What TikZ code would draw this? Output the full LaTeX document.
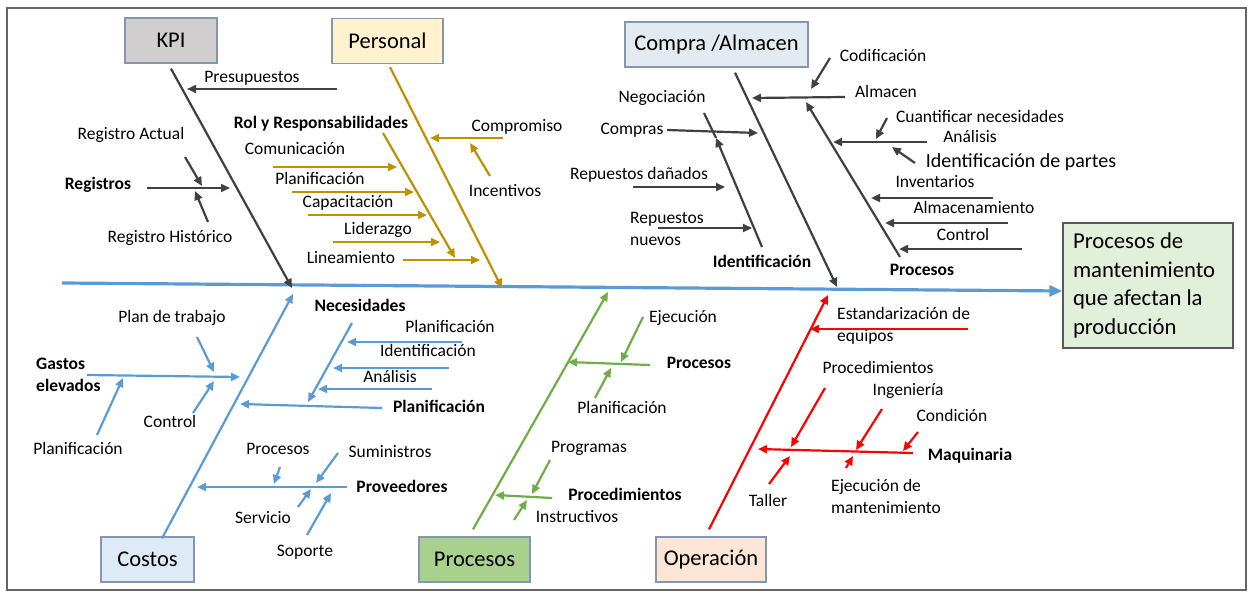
\documentclass[tikz,border=0pt]{standalone}
\usepackage{fontspec}
\setmainfont{Carlito}
\usetikzlibrary{arrows.meta,positioning}

\definecolor{kpilinea}{HTML}{404040}
\definecolor{perlinea}{HTML}{BF9000}
\definecolor{costlinea}{HTML}{5B9BD5}
\definecolor{proclinea}{HTML}{70AD47}
\definecolor{oplinea}{HTML}{FF0000}
\definecolor{borde}{HTML}{8497B0}
\definecolor{kpifondo}{HTML}{D0CECE}
\definecolor{perfondo}{HTML}{FFF2CC}
\definecolor{compfondo}{HTML}{E4EAF2}
\definecolor{costfondo}{HTML}{DEEBF7}
\definecolor{procfondo}{HTML}{A9D18E}
\definecolor{opfondo}{HTML}{FBE5D6}
\definecolor{efefondo}{HTML}{E2EFDA}

\newcommand{\etqfont}{\fontsize{17.5}{22}\selectfont}
\newcommand{\cajafont}{\fontsize{22.5}{27}\selectfont}

\begin{document}
\begin{tikzpicture}[
			x=1pt, y=-1pt,
			>={Triangle[length=9pt,width=8pt]},
			categoria/.style={draw=borde, line width=1.3pt, minimum height=45pt, inner sep=0pt, font=\cajafont},
			etq/.style={font=\etqfont, inner sep=0pt, text height=12pt, text depth=4pt},
			negrita/.style={etq, font=\etqfont\bfseries},
			etqdos/.style={font=\etqfont, inner sep=0pt, align=left, anchor=west},
			causa/.style={->, line width=2.2pt},
			espina/.style={->, line width=3.2pt, costlinea, >={Triangle[length=13pt,width=11pt]}}
		]
		\useasboundingbox (0,0) rectangle (1252,594);
		\draw[black!60, line width=1.3pt] (7,8) rectangle (1246,590);

		% categorias y efecto
		\node[categoria, fill=kpifondo, minimum width=92pt] (kpi) at (171,40.5) {KPI};
		\node[categoria, fill=perfondo, minimum width=111pt] (personal) at (387.5,41) {Personal};
		\node[categoria, fill=compfondo, minimum width=183pt] (compra) at (716.5,44.5) {Compra /Almacen};
		\node[categoria, fill=costfondo, minimum width=93pt] (costos) at (147.5,559.5) {Costos};
		\node[categoria, fill=procfondo, minimum width=111pt] (procesos) at (474.5,559.5) {Procesos};
		\node[categoria, fill=opfondo, minimum width=110pt] (operacion) at (711,559.5) {Operación};
		\node[draw=black!65, fill=efefondo, line width=1.3pt, text width=150pt, inner xsep=10pt, inner ysep=0pt,
			minimum height=125pt, align=flush left, font=\fontsize{22.7}{28.5}\selectfont] (efecto) at (1148,285.5)
			{Procesos de\\ mantenimiento\\ que afectan la\\ producción};

		% espina principal
		\coordinate (esp-ini) at (62,283);
		\draw[espina] (esp-ini) -- ([yshift=-5.5pt]efecto.west);

		\coordinate (kpi-fin) at (292,288);
		\coordinate (per-fin) at (502,288);
		\coordinate (comp-fin) at (837,287);
		\coordinate (cost-fin) at (293,294);
		\coordinate (proc-fin) at (608,292);
		\coordinate (op-fin) at (828,295);
		\draw[causa, kpilinea] ([yshift=-5pt]kpi.south) -- (kpi-fin);
		\draw[causa, perlinea] ([xshift=2.5pt,yshift=-3pt]personal.south) -- (per-fin);
		\draw[causa, kpilinea] ([xshift=18.5pt,yshift=-5pt]compra.south) -- (comp-fin);
		\draw[causa, costlinea] ([xshift=14.5pt,yshift=-2pt]costos.north) -- (cost-fin);
		\draw[causa, proclinea] ([xshift=-1.5pt,yshift=7pt]procesos.north) -- (proc-fin);
		\draw[causa, oplinea] ([xshift=-2pt,yshift=7pt]operacion.north) -- (op-fin);

		% KPI
		\node[etq] (presup) at (252,78) {Presupuestos};
		\node[etq] (regact) at (131,135) {Registro Actual};
		\node[negrita] (regs) at (98,185) {Registros};
		\node[etq] (reghist) at (170,238) {Registro Histórico};
		\coordinate (presup-a) at (337,89); \coordinate (presup-b) at (187,89);
		\coordinate (regs-a) at (147,188); \coordinate (regs-b) at (230,188);
		\coordinate (regact-a) at (185,157); \coordinate (regact-b) at (202,186);
		\coordinate (reghist-a) at (208,222); \coordinate (reghist-b) at (195,191);
		\draw[causa, kpilinea] (presup-a) -- (presup-b);
		\draw[causa, kpilinea] (regs-a) -- (regs-b);
		\draw[causa, kpilinea] (regact-a) -- (regact-b);
		\draw[causa, kpilinea] (reghist-a) -- (reghist-b);

		% Personal
		\node[etq] (comprom) at (517,127) {Compromiso};
		\node[etq] (incent) at (505,192) {Incentivos};
		\node[negrita] (rol) at (321,124) {Rol y Responsabilidades};
		\node[etq] (comun) at (295,150) {Comunicación};
		\node[etq] (planper) at (320,180) {Planificación};
		\node[etq] (capac) at (348,203) {Capacitación};
		\node[etq] (lider) at (378,230) {Liderazgo};
		\node[etq] (linea) at (351,259) {Lineamiento};
		\coordinate (comprom-a) at (503,138); \coordinate (comprom-b) at (430,138);
		\coordinate (incent-a) at (490,176); \coordinate (incent-b) at (470,143);
		\coordinate (rol-a) at (383,133); \coordinate (rol-b) at (455,258);
		\coordinate (comun-a) at (273,167); \coordinate (comun-b) at (397,167);
		\coordinate (planper-a) at (292,192); \coordinate (planper-b) at (414,192);
		\coordinate (capac-a) at (308,215); \coordinate (capac-b) at (427,215);
		\coordinate (lider-a) at (333,242); \coordinate (lider-b) at (440,242);
		\coordinate (linea-a) at (403,260); \coordinate (linea-b) at (480,260);
		\draw[causa, perlinea] (comprom-a) -- (comprom-b);
		\draw[causa, perlinea] (incent-a) -- (incent-b);
		\draw[causa, perlinea] (rol-a) -- (rol-b);
		\draw[causa, perlinea] (comun-a) -- (comun-b);
		\draw[causa, perlinea] (planper-a) -- (planper-b);
		\draw[causa, perlinea] (capac-a) -- (capac-b);
		\draw[causa, perlinea] (lider-a) -- (lider-b);
		\draw[causa, perlinea] (linea-a) -- (linea-b);

		% Compra /Almacen
		\node[etq] (negoc) at (662,98) {Negociación};
		\node[etq] (compras) at (632,130) {Compras};
		\node[etq] (repdan) at (639,175) {Repuestos dañados};
		\node[etqdos] (repnue) at (630,229) {Repuestos\\ nuevos};
		\node[negrita] (identif) at (762,263) {Identificación};
		\node[etq] (codif) at (883,58) {Codificación};
		\node[etq] (almacen) at (886,93) {Almacen};
		\node[etq] (cuant) at (980,118) {Cuantificar necesidades};
		\node[etq] (analisis) at (970,138) {Análisis};
		\node[etq, font=\fontsize{20}{24}\selectfont] (idpartes) at (1021,163) {Identificación de partes};
		\node[etq] (invent) at (935,183) {Inventarios};
		\node[etq] (almacenam) at (974,209) {Almacenamiento};
		\node[etq] (control) at (963,236) {Control};
		\node[negrita] (procalm) at (922,271) {Procesos};
		\coordinate (compras-a) at (667,130); \coordinate (compras-b) at (758,133);
		\coordinate (negoc-a) at (704,113); \coordinate (identif-b) at (716,138);
		\coordinate (identif-a) at (762,247);
		\coordinate (repdan-a) at (633,187); \coordinate (repdan-b) at (725,187);
		\coordinate (repnue-a) at (658,228); \coordinate (repnue-b) at (752,228);
		\coordinate (almacen-a) at (845,97); \coordinate (almacen-b) at (752,98);
		\coordinate (codif-a) at (830,58); \coordinate (codif-b) at (811,89);
		\coordinate (procalm-a) at (900,257); \coordinate (procalm-b) at (806,102);
		\coordinate (cuant-a) at (887,118); \coordinate (cuant-b) at (876,139);
		\coordinate (analisis-a) at (927,142); \coordinate (analisis-b) at (833,142);
		\coordinate (idpartes-a) at (915,163); \coordinate (idpartes-b) at (892,147);
		\coordinate (invent-a) at (993,198); \coordinate (invent-b) at (871,198);
		\coordinate (almacenam-a) at (1008,223); \coordinate (almacenam-b) at (885,223);
		\coordinate (control-a) at (1022,249); \coordinate (control-b) at (899,249);
		\draw[causa, kpilinea] (compras-a) -- (compras-b);
		\draw[line width=2.2pt, kpilinea] (negoc-a) -- (identif-b);
		\draw[causa, kpilinea] (identif-a) -- (identif-b);
		\draw[causa, kpilinea] (repdan-a) -- (repdan-b);
		\draw[causa, kpilinea] (repnue-a) -- (repnue-b);
		\draw[causa, kpilinea] (almacen-a) -- (almacen-b);
		\draw[causa, kpilinea] (codif-a) -- (codif-b);
		\draw[causa, kpilinea] (procalm-a) -- (procalm-b);
		\draw[causa, kpilinea] (cuant-a) -- (cuant-b);
		\draw[causa, kpilinea] (analisis-a) -- (analisis-b);
		\draw[causa, kpilinea] (idpartes-a) -- (idpartes-b);
		\draw[causa, kpilinea] (invent-a) -- (invent-b);
		\draw[causa, kpilinea] (almacenam-a) -- (almacenam-b);
		\draw[causa, kpilinea] (control-a) -- (control-b);

		% Costos
		\node[negrita] (necesid) at (360,307) {Necesidades};
		\node[etq] (plantrab) at (172,318) {Plan de trabajo};
		\node[etqdos, font=\etqfont\bfseries, align=left] (gastos) at (36,374.5) {Gastos\\ elevados};
		\node[etq] (plannec) at (450,328) {Planificación};
		\node[etq] (idnec) at (428,352) {Identificación};
		\node[etq] (analnec) at (390,378) {Análisis};
		\node[negrita] (plancost) at (439,408) {Planificación};
		\node[etq] (controlc) at (170,423) {Control};
		\node[etq] (plangas) at (78,450) {Planificación};
		\node[etq] (procprov) at (278,450) {Procesos};
		\node[etq] (sumin) at (390,453) {Suministros};
		\node[negrita] (prov) at (402,488) {Proveedores};
		\node[etq] (serv) at (263,519) {Servicio};
		\node[etq] (soporte) at (305,552) {Soporte};
		\coordinate (gastos-a) at (87,375); \coordinate (gastos-b) at (240,377);
		\coordinate (plantrab-a) at (197,337); \coordinate (plantrab-b) at (214,372);
		\coordinate (plangas-a) at (97,435); \coordinate (plangas-b) at (123,378);
		\coordinate (controlc-a) at (193,413); \coordinate (controlc-b) at (214,381);
		\coordinate (necesid-a) at (352,323); \coordinate (necesid-b) at (308,402);
		\coordinate (plannec-a) at (462,342); \coordinate (plannec-b) at (347,342);
		\coordinate (idnec-a) at (449,368); \coordinate (idnec-b) at (333,368);
		\coordinate (analnec-a) at (432,389); \coordinate (analnec-b) at (318,389);
		\coordinate (plancost-a) at (382,408); \coordinate (plancost-b) at (240,404);
		\coordinate (prov-a) at (347,487); \coordinate (prov-b) at (197,487);
		\coordinate (procprov-a) at (280,467); \coordinate (procprov-b) at (274,484);
		\coordinate (sumin-a) at (338,453); \coordinate (sumin-b) at (316,483);
		\coordinate (serv-a) at (298,507); \coordinate (serv-b) at (311,489);
		\coordinate (soporte-a) at (307,535); \coordinate (soporte-b) at (331,493);
		\draw[causa, costlinea] (gastos-a) -- (gastos-b);
		\draw[causa, costlinea] (plantrab-a) -- (plantrab-b);
		\draw[causa, costlinea] (plangas-a) -- (plangas-b);
		\draw[causa, costlinea] (controlc-a) -- (controlc-b);
		\draw[causa, costlinea] (necesid-a) -- (necesid-b);
		\draw[causa, costlinea] (plannec-a) -- (plannec-b);
		\draw[causa, costlinea] (idnec-a) -- (idnec-b);
		\draw[causa, costlinea] (analnec-a) -- (analnec-b);
		\draw[causa, costlinea] (plancost-a) -- (plancost-b);
		\draw[causa, costlinea] (prov-a) -- (prov-b);
		\draw[causa, costlinea] (procprov-a) -- (procprov-b);
		\draw[causa, costlinea] (sumin-a) -- (sumin-b);
		\draw[causa, costlinea] (serv-a) -- (serv-b);
		\draw[causa, costlinea] (soporte-a) -- (soporte-b);

		% Procesos
		\node[etq] (ejec) at (683,318) {Ejecución};
		\node[negrita] (procproc) at (699,364) {Procesos};
		\node[etq] (planproc) at (622,409) {Planificación};
		\node[etq] (progr) at (589,448) {Programas};
		\node[negrita] (procedim) at (625,496) {Procedimientos};
		\node[etq] (instr) at (577,518) {Instructivos};
		\coordinate (procproc-a) at (650,365); \coordinate (procproc-b) at (568,362);
		\coordinate (ejec-a) at (643,317); \coordinate (ejec-b) at (621,362);
		\coordinate (planproc-a) at (595,398); \coordinate (planproc-b) at (611,368);
		\coordinate (procedim-a) at (552,498); \coordinate (procedim-b) at (495,495);
		\coordinate (progr-a) at (550,460); \coordinate (progr-b) at (532,494);
		\coordinate (instr-a) at (514,520); \coordinate (instr-b) at (527,500);
		\draw[causa, proclinea] (procproc-a) -- (procproc-b);
		\draw[causa, proclinea] (ejec-a) -- (ejec-b);
		\draw[causa, proclinea] (planproc-a) -- (planproc-b);
		\draw[causa, proclinea] (procedim-a) -- (procedim-b);
		\draw[causa, proclinea] (progr-a) -- (progr-b);
		\draw[causa, proclinea] (instr-a) -- (instr-b);

		% Operacion
		\node[etqdos] (estand) at (837,326) {Estandarización de\\ equipos};
		\node[etq] (procedop) at (878,369) {Procedimientos};
		\node[etq] (ingen) at (908,391) {Ingeniería};
		\node[etq] (condic) at (952,417) {Condición};
		\node[negrita] (maquin) at (970,456) {Maquinaria};
		\node[etq] (taller) at (768,502) {Taller};
		\node[etqdos] (ejecman) at (831,496) {Ejecución de\\ mantenimiento};
		\coordinate (estand-a) at (968,329); \coordinate (estand-b) at (810,329);
		\coordinate (maquin-a) at (913,453); \coordinate (maquin-b) at (758,449);
		\coordinate (procedop-a) at (825,388); \coordinate (procedop-b) at (791,447);
		\coordinate (ingen-a) at (882,409); \coordinate (ingen-b) at (856,450);
		\coordinate (ejecman-a) at (846,468); \coordinate (ejecman-b) at (853,456);
		\coordinate (condic-a) at (918,432); \coordinate (condic-b) at (903,451);
		\coordinate (taller-a) at (769,484); \coordinate (taller-b) at (790,456);
		\draw[causa, oplinea] (estand-a) -- (estand-b);
		\draw[causa, oplinea] (maquin-a) -- (maquin-b);
		\draw[causa, oplinea] (procedop-a) -- (procedop-b);
		\draw[causa, oplinea] (ingen-a) -- (ingen-b);
		\draw[causa, oplinea] (ejecman-a) -- (ejecman-b);
		\draw[causa, oplinea] (condic-a) -- (condic-b);
		\draw[causa, oplinea] (taller-a) -- (taller-b);
	\end{tikzpicture}
\end{document}
